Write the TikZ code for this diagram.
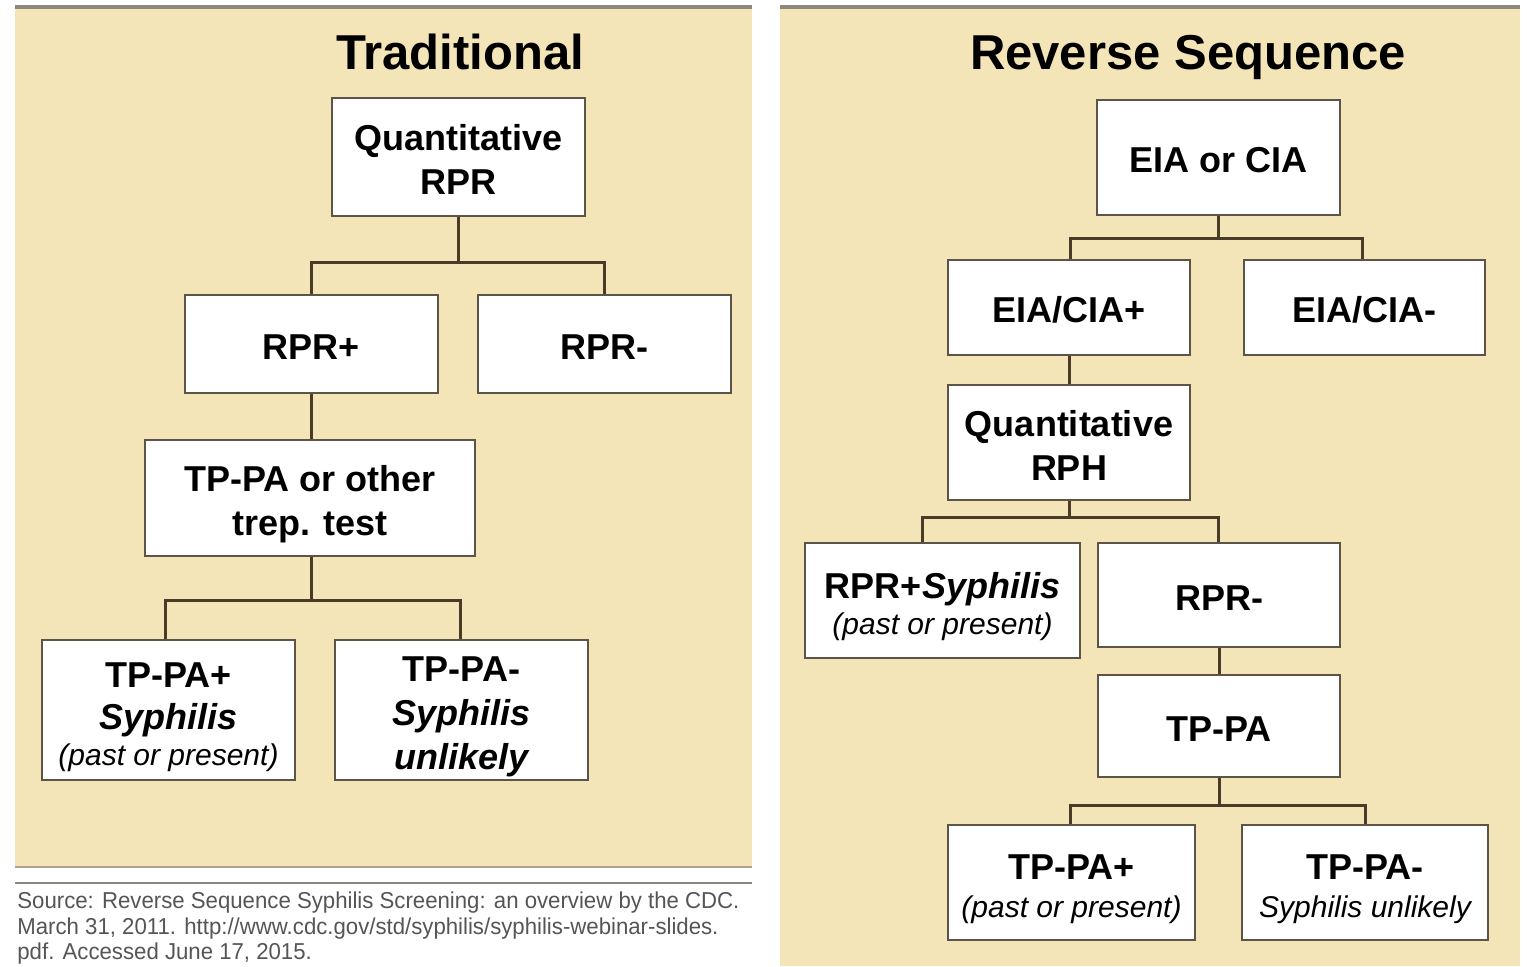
\documentclass[tikz,border=0pt]{standalone}
\usepackage{fontspec}
\setmainfont{Liberation Sans}
\newfontfamily\narrowfont[FakeStretch=0.965]{Liberation Sans}
\definecolor{panelbg}{RGB}{243,229,183}
\definecolor{boxline}{RGB}{92,84,70}
\definecolor{linkc}{RGB}{72,60,40}
\definecolor{barc}{RGB}{140,136,126}
\definecolor{srcc}{RGB}{85,85,85}
\newcommand\subtxt[1]{{\fontsize{15}{18}\selectfont\mdseries\itshape #1}}
\newcommand\bit[1]{{\itshape #1}}
% struts that push a box's text slightly lower
\newcommand\strA{\rule{0pt}{15.5pt}}
\newcommand\strB{\rule{0pt}{19.5pt}}
\tikzset{
  panel/.style={fill=panelbg, draw=none},
  topbar/.style={draw=barc, line width=2pt},
  box/.style={draw=boxline, fill=white, line width=1.2pt, inner sep=0pt,
    align=center, font=\bfseries\fontsize{18}{22}\selectfont},
  link/.style={draw=linkc, line width=1.5pt},
  title/.style={anchor=base, font=\bfseries\fontsize{24.5}{28}\selectfont},
  srcline/.style={anchor=base west, inner sep=0pt, text=srcc,
    font=\narrowfont\fontsize{11.5}{13.5}\selectfont}
}
\begin{document}
\begin{tikzpicture}[x=0.5pt,y=-0.5pt]
\useasboundingbox (0,0) rectangle (1527,966);
\fill[white] (0,0) rectangle (1527,966);

% background panels
\fill[panel] (15,8) rectangle (752,868);
\fill[panel] (780,8) rectangle (1520,966);
\draw[topbar] (15,7) -- (752,7);
\draw[topbar] (780,7) -- (1520,7);
\draw[draw=barc!70!panelbg, line width=1.2pt] (15,867) -- (752,867);
\draw[draw=barc, line width=0.8pt] (15,883) -- (752,883);

% titles
\node[title] (t1) at (460,69) {Traditional};
\node[title] (t2) at (1188,69) {Reverse Sequence};

% traditional algorithm
\node[box, minimum width=126.5pt, minimum height=59pt] (q) at (458.5,157) {\strA Quantitative\\RPR};
\node[box, minimum width=126.5pt, minimum height=49pt] (rp) at (311.5,344) {\strA RPR+};
\node[box, minimum width=126.5pt, minimum height=49pt] (rm) at (604.5,344) {\strA RPR-};
\node[box, minimum width=165pt, minimum height=58pt] (tp) at (310,498) {\strB TP-PA or other\\trep. test};
\node[box, minimum width=126.5pt, minimum height=70pt] (tpp) at (168.5,710)
  {\strB TP-PA+\\[-1pt]\bit{Syphilis}\\[-4pt]\subtxt{(past or present)}};
\node[box, minimum width=126.5pt, minimum height=70pt] (tpm) at (461.5,710)
  {\strB TP-PA-\\\bit{Syphilis}\\\bit{unlikely}};

\coordinate (j1) at (458.5,262);
\coordinate (j2) at (311.5,600);
\draw[link] (q.south) -- (j1);
\draw[link] (j1) -| (rp.north);
\draw[link] (j1) -| (rm.north);
\draw[link] (rp.south) -- (tp.north -| rp.south);
\draw[link] (tp.south -| j2) -- (j2);
\draw[link] (j2) -| ([xshift=-1.75pt]tpp.north);
\draw[link] (j2) -| ([xshift=-0.75pt]tpm.north);

% reverse sequence algorithm
\node[box, minimum width=121.5pt, minimum height=57.5pt] (e) at (1218.5,157.5) {\strA EIA or CIA};
\node[box, minimum width=121pt, minimum height=47.5pt] (ep) at (1069,307.5) {\strA EIA/CIA+};
\node[box, minimum width=120.5pt, minimum height=47.5pt] (em) at (1364.5,307.5) {\strA EIA/CIA-};
\node[box, minimum width=121pt, minimum height=57.5pt] (qr) at (1069,442.5) {\strA Quantitative\\RPH};
\node[box, minimum width=137.5pt, minimum height=57.5pt] (rs) at (942.5,600.5)
  {\strB RPR+\bit{Syphilis}\\[-4pt]\subtxt{(past or present)}};
\node[box, minimum width=121pt, minimum height=52pt] (rm2) at (1219,595) {\strA RPR-};
\node[box, minimum width=121pt, minimum height=51pt] (tpa) at (1219,726) {\strA TP-PA};
\node[box, minimum width=123.5pt, minimum height=57.5pt] (tq) at (1071.5,882.5)
  {\strB TP-PA+\\[-3pt]\subtxt{(past or present)}};
\node[box, minimum width=123pt, minimum height=57.5pt] (tr) at (1365,882.5)
  {\strB TP-PA-\\[-3pt]\subtxt{Syphilis unlikely}};

\coordinate (k1) at (1218.5,238);
\coordinate (k2) at (1069,517);
\coordinate (k3) at (1219,805);
\draw[link] (e.south) -- (k1);
\draw[link] (k1) -| ([xshift=0.5pt]ep.north);
\draw[link] (k1) -| ([xshift=-1.25pt]em.north);
\draw[link] (ep.south) -- (qr.north);
\draw[link] (qr.south) -- (k2);
\draw[link] (k2) -| ([xshift=-10.25pt]rs.north);
\draw[link] (k2) -| ([xshift=-0.5pt]rm2.north);
\draw[link] (rm2.south) -- (tpa.north);
\draw[link] (tpa.south) -- (k3);
\draw[link] (k3) -| ([xshift=-0.75pt]tq.north);
\draw[link] (k3) -| (tr.north);

% source note
\node[srcline] (s1) at (17,908) {Source: Reverse Sequence Syphilis Screening: an overview by the CDC.};
\node[srcline] (s2) at (17,934) {March 31, 2011. http://www.cdc.gov/std/syphilis/syphilis-webinar-slides.};
\node[srcline] (s3) at (17,959) {pdf. Accessed June 17, 2015.};
\end{tikzpicture}
\end{document}
